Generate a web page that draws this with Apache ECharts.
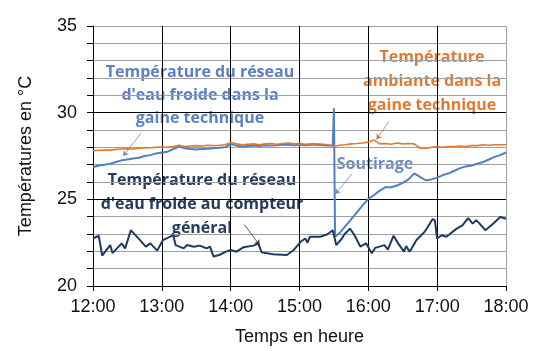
<!DOCTYPE html>
<html>
<head>
<meta charset="utf-8">
<script src="https://cdn.jsdelivr.net/npm/echarts@6/dist/echarts.min.js"></script>
<style>
  html, body { margin: 0; padding: 0; background: #fff; }
  #chart { width: 549px; height: 351px; }
</style>
</head>
<body>
<div id="chart"></div>
<script>
// x tick labels (hours)
const hourLabels = ['12:00', '13:00', '14:00', '15:00', '16:00', '17:00', '18:00']

// ambient temperature in the technical duct (orange)
const ambientTimes = ['12:00', '12:05', '12:10', '12:15', '12:20', '12:25', '12:30', '12:35', '12:40', '12:45', '12:50', '12:55',
  '13:00', '13:05', '13:10', '13:15', '13:20', '13:25', '13:30', '13:35', '13:40', '13:45', '13:50', '13:55',
  '14:00', '14:05', '14:10', '14:15', '14:20', '14:25', '14:30', '14:35', '14:40', '14:45', '14:50', '14:55',
  '15:00', '15:05', '15:10', '15:15', '15:20', '15:25', '15:30', '15:35', '15:40', '15:45', '15:50', '15:55',
  '16:00', '16:05', '16:10', '16:15', '16:20', '16:25', '16:30', '16:35', '16:40', '16:45', '16:50', '16:55',
  '17:00', '17:05', '17:10', '17:15', '17:20', '17:25', '17:30', '17:35', '17:40', '17:45', '17:50', '17:55', '18:00']
const ambientValues = [27.80, 27.83, 27.85, 27.84, 27.88, 27.90, 27.92, 27.90, 27.95, 27.97, 27.98, 28.00,
  28.02, 28.00, 28.05, 28.12, 28.05, 28.08, 28.10, 28.08, 28.12, 28.10, 28.12, 28.15,
  28.27, 28.20, 28.15, 28.18, 28.20, 28.15, 28.20, 28.22, 28.18, 28.22, 28.25, 28.20,
  28.22, 28.18, 28.20, 28.20, 28.18, 28.15, 28.05, 28.12, 28.15, 28.20, 28.22, 28.25,
  28.30, 28.42, 28.20, 28.22, 28.18, 28.25, 28.20, 28.22, 28.20, 27.95, 27.93, 28.00,
  28.05, 28.00, 28.05, 28.05, 28.08, 28.05, 28.10, 28.10, 28.15, 28.12, 28.15, 28.15, 28.15]

// cold water network in the technical duct (light blue)
const ductTimes = ['12:00', '12:05', '12:10', '12:15', '12:20', '12:25', '12:30', '12:35', '12:40', '12:45', '12:50', '12:55',
  '13:00', '13:05', '13:10', '13:15', '13:20', '13:25', '13:30', '13:35', '13:40', '13:45', '13:50', '13:55',
  '14:00', '14:05', '14:10', '14:15', '14:20', '14:25', '14:30', '14:35', '14:40', '14:45', '14:50', '14:55',
  '15:00', '15:05', '15:10', '15:15', '15:20', '15:25', '15:29', '15:30', '15:31', '15:35', '15:40', '15:45', '15:50', '15:55',
  '16:00', '16:05', '16:10', '16:15', '16:20', '16:25', '16:30', '16:35', '16:40', '16:45', '16:50', '16:55',
  '17:00', '17:05', '17:10', '17:15', '17:20', '17:25', '17:30', '17:35', '17:40', '17:45', '17:50', '17:55', '18:00']
const ductValues = [26.85, 26.95, 27.00, 27.05, 27.15, 27.25, 27.30, 27.35, 27.40, 27.50, 27.55, 27.65,
  27.70, 27.75, 27.90, 28.05, 27.95, 27.90, 27.88, 27.90, 27.92, 27.95, 27.98, 28.00,
  28.20, 28.10, 28.05, 28.08, 28.10, 28.08, 28.12, 28.10, 28.12, 28.15, 28.15, 28.12,
  28.15, 28.12, 28.15, 28.15, 28.12, 28.10, 28.10, 30.25, 22.85, 23.05, 23.45, 23.85, 24.25, 24.65,
  25.03, 25.25, 25.50, 25.70, 25.70, 25.80, 25.95, 26.15, 26.50, 26.30, 26.10, 26.15,
  26.25, 26.40, 26.50, 26.65, 26.80, 26.90, 26.95, 27.05, 27.15, 27.30, 27.45, 27.55, 27.70]

// cold water network at the main meter (dark blue)
const meterTimes = ['12:00', '12:05', '12:08', '12:15', '12:17', '12:25', '12:28', '12:33', '12:41', '12:46', '12:50', '12:56',
  '13:01', '13:10', '13:12', '13:19', '13:22', '13:28', '13:33', '13:39', '13:42', '13:45', '13:50', '13:56',
  '14:00', '14:05', '14:11', '14:20', '14:24', '14:27', '14:37', '14:49', '14:55',
  '15:01', '15:05', '15:07', '15:09', '15:18', '15:24', '15:29', '15:32', '15:37', '15:39', '15:44', '15:48', '15:53', '15:58',
  '16:03', '16:06', '16:14', '16:17', '16:22', '16:26', '16:31', '16:33', '16:36', '16:42', '16:49', '16:56', '16:58',
  '17:00', '17:04', '17:08', '17:17', '17:22', '17:27', '17:31', '17:34', '17:37', '17:42', '17:48', '17:55', '18:00']
const meterValues = [22.74, 22.90, 21.75, 22.36, 21.90, 22.46, 22.17, 23.22, 22.65, 22.27, 22.46, 22.04,
  22.65, 22.93, 22.36, 22.17, 22.36, 22.27, 22.33, 22.17, 22.27, 21.70, 21.79, 21.98,
  22.08, 21.98, 22.23, 22.33, 22.46, 21.94, 21.83, 21.79, 22.08,
  22.55, 22.74, 22.50, 22.84, 22.84, 22.97, 23.22, 22.36, 22.74, 22.97, 23.31, 22.93, 22.27, 22.46,
  21.89, 22.20, 22.36, 22.10, 22.90, 22.46, 21.98, 22.30, 21.98, 22.65, 23.12, 23.85, 23.80,
  22.74, 22.93, 22.84, 23.31, 23.50, 23.92, 23.60, 23.80, 23.60, 23.22, 23.55, 23.98, 23.88]

const toHours = s => {
  const [h, m] = s.split(':').map(Number)
  return h + m / 60
}
const pairs = (times, values) => times.map((t, i) => [toHours(t), values[i]])

const COLOR_AMBIENT = '#E27A2F'
const COLOR_DUCT = '#5080C0'
const COLOR_METER = '#1F3A60'
const GRID_GRAY = '#A0A0A0'

const labelFont = 'Liberation Sans, Arial, sans-serif'
const noteFont = 'bold 16px "Open Sans", sans-serif'

// split line colours: black every 5 °C, grey otherwise, grey frame at the top
const ySplitColors = []
for (let i = 0; i <= 15; i++) ySplitColors.push(i % 5 === 0 && i < 15 ? '#000' : GRID_GRAY)
const xSplitColors = hourLabels.map((_, i) => i < hourLabels.length - 1 ? '#000' : GRID_GRAY)

const arrowLine = (from, to, color) => ({
  type: 'line',
  data: [],
  silent: true,
  markLine: {
    silent: true,
    symbol: ['none', 'arrow'],
    symbolSize: 5,
    label: { show: false },
    lineStyle: { color: color, width: 0.8, type: 'solid' },
    data: [[{ coord: from }, { coord: to }]]
  }
})

const chart = echarts.init(document.getElementById('chart'))
chart.setOption({
  animation: false,
  grid: { left: 93, right: 43, top: 26, bottom: 63 },
  xAxis: {
    type: 'value',
    min: 12,
    max: 18,
    interval: 1,
    name: 'Temps en heure',
    nameLocation: 'middle',
    nameGap: 42,
    nameTextStyle: { color: '#111', fontSize: 18, fontFamily: labelFont },
    axisLine: { lineStyle: { color: '#000', width: 1 } },
    axisTick: { show: true, inside: false, length: 5, lineStyle: { color: '#000' } },
    axisLabel: {
      color: '#111',
      fontSize: 18,
      fontFamily: labelFont,
      margin: 12,
      formatter: v => hourLabels[Math.round(v - 12)]
    },
    splitLine: { show: true, lineStyle: { color: xSplitColors, width: 1 } }
  },
  yAxis: {
    type: 'value',
    min: 20,
    max: 35,
    interval: 1,
    name: 'Températures en °C',
    nameLocation: 'middle',
    nameGap: 58,
    nameRotate: 90,
    nameTextStyle: { color: '#111', fontSize: 18, fontFamily: labelFont },
    axisLine: { show: true, lineStyle: { color: '#000', width: 1 } },
    axisTick: { show: true, inside: false, length: 6, lineStyle: { color: '#000' } },
    axisLabel: {
      color: '#111',
      fontSize: 18,
      fontFamily: labelFont,
      margin: 16,
      formatter: v => (v % 5 === 0 ? String(v) : '')
    },
    splitLine: { show: true, lineStyle: { color: ySplitColors, width: 1 } }
  },
  series: [
    {
      name: 'gaine',
      type: 'line',
      showSymbol: false,
      lineStyle: { color: COLOR_DUCT, width: 2 },
      data: pairs(ductTimes, ductValues)
    },
    {
      name: 'ambiante',
      type: 'line',
      showSymbol: false,
      lineStyle: { color: COLOR_AMBIENT, width: 1.6 },
      data: pairs(ambientTimes, ambientValues)
    },
    {
      name: 'compteur',
      type: 'line',
      showSymbol: false,
      lineStyle: { color: COLOR_METER, width: 2 },
      data: pairs(meterTimes, meterValues)
    },
    arrowLine([12.70, 28.84], [12.44, 27.5], '#6D8CBF'),
    arrowLine([16.30, 29.5], [16.12, 28.46], '#C07840'),
    arrowLine([14.20, 23.54], [14.42, 22.36], '#333'),
    arrowLine([15.76, 26.46], [15.52, 25.31], '#6D8CBF')
  ],
  graphic: [
    {
      type: 'text',
      x: 200, y: 95,
      style: {
        text: 'Température du réseau\nd\'eau froide dans la\ngaine technique',
        font: noteFont, fill: '#5B82C0', align: 'center', verticalAlign: 'middle', lineHeight: 23
      }
    },
    {
      type: 'text',
      x: 432, y: 81,
      style: {
        text: 'Température\nambiante dans la\ngaine technique',
        font: noteFont, fill: '#E07B33', align: 'center', verticalAlign: 'middle', lineHeight: 24
      }
    },
    {
      type: 'text',
      x: 202, y: 204,
      style: {
        text: 'Température du réseau\nd\'eau froide au compteur\ngénéral',
        font: noteFont, fill: '#243B5E', align: 'center', verticalAlign: 'middle', lineHeight: 24
      }
    },
    {
      type: 'text',
      x: 375, y: 164,
      style: {
        text: 'Soutirage',
        font: noteFont, fill: '#6A8DC6', align: 'center', verticalAlign: 'middle'
      }
    }
  ]
})
</script>
</body>
</html>
